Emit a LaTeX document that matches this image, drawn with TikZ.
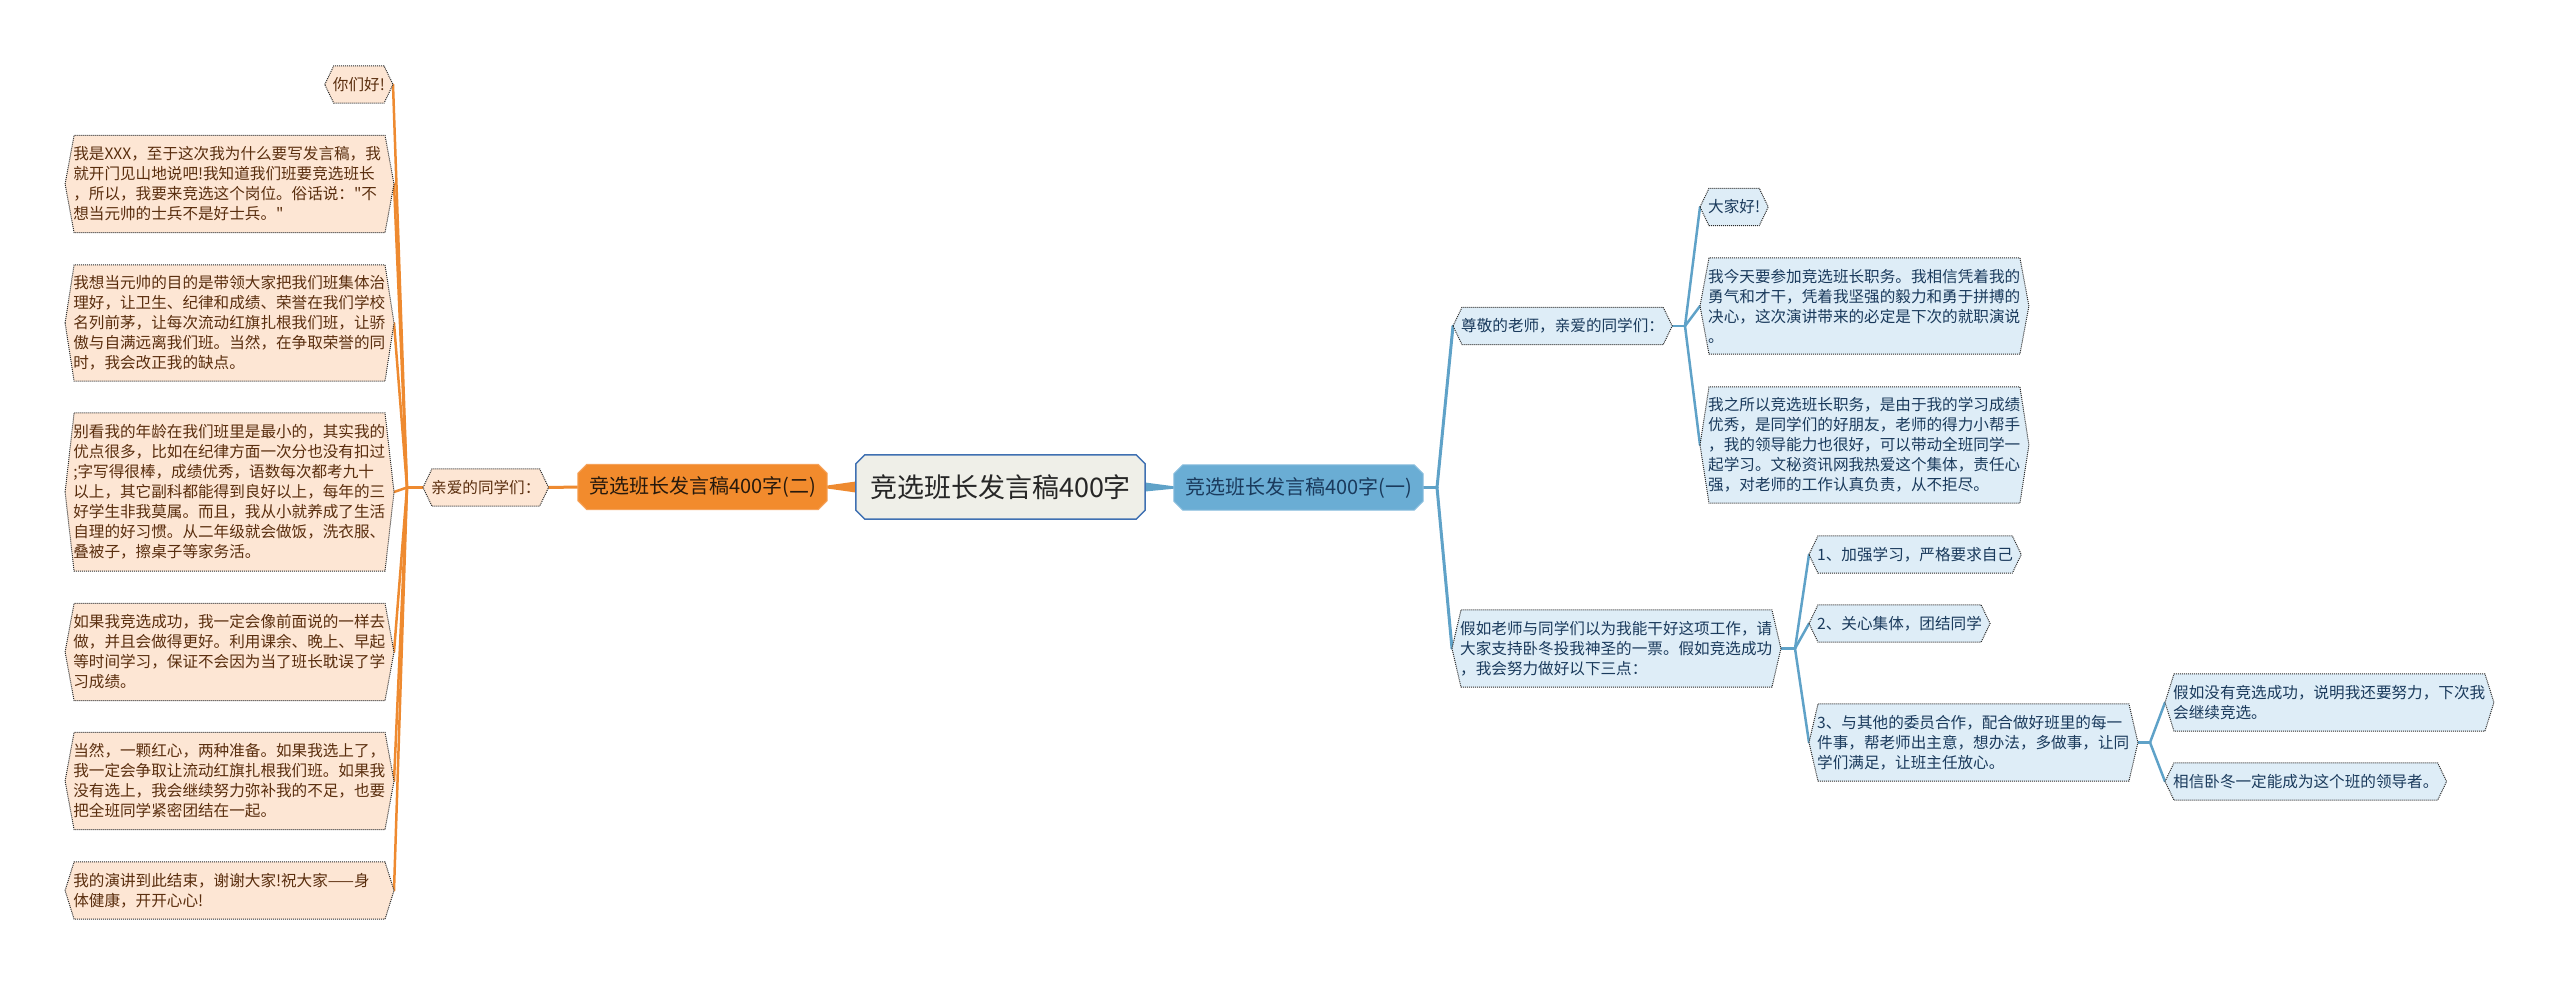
\documentclass[tikz,border=0pt]{standalone}
\usepackage{fontspec}
\setmainfont{Noto Sans CJK SC}
\newfontfamily\cjkplain{Noto Sans CJK SC}
\usetikzlibrary{calc}
\pgfdeclarelayer{bg}
\pgfsetlayers{bg,main}
\definecolor{org}{HTML}{EE8A30}
\definecolor{orgfill}{HTML}{F28B2D}
\definecolor{orgline}{HTML}{F5A25A}
\definecolor{peach}{HTML}{FDE6D4}
\definecolor{brn}{HTML}{5A2E0E}
\definecolor{blu}{HTML}{5FA2C8}
\definecolor{blufill}{HTML}{6AADD4}
\definecolor{lblue}{HTML}{DEEDF7}
\definecolor{navy}{HTML}{1A3A5C}
\definecolor{rootfill}{HTML}{EFEFE8}
\definecolor{rootline}{HTML}{3F70B2}
\definecolor{dotc}{HTML}{2A2A2A}
\newcommand\lf{\cjkplain\fontsize{15.6}{20}\selectfont}
\newcommand\mf{\cjkplain\fontsize{20}{24}\selectfont}
\newcommand\rf{\cjkplain\fontsize{27}{32}\selectfont}
\begin{document}
\begin{tikzpicture}[x=1pt,y=-1pt,
  leaf/.style={inner xsep=8pt, inner ysep=0pt, font=\lf, minimum height=37pt},
  lo/.style={leaf, text=brn},
  lb/.style={leaf, text=navy},
  para/.style={text width=312.5pt, align=left, minimum height=#1},
  hexO/.style={fill=peach, draw=dotc, densely dotted, line width=1pt},
  hexB/.style={fill=lblue, draw=dotc, densely dotted, line width=1pt},
  lnO/.style={draw=org, line width=2.5pt, line cap=round},
  lnB/.style={draw=blu, line width=2.5pt, line cap=round},
  mainO/.style={fill=orgfill, draw=orgline, line width=1pt},
  mainB/.style={fill=blufill, draw=blufill!80!white, line width=1pt},
  rootst/.style={fill=rootfill, draw=rootline, line width=1.5pt},
  midnode/.style={inner sep=0pt, font=\mf, minimum width=#1, minimum height=45pt}
]
\useasboundingbox (0,0) rectangle (2560,985);

% central nodes
\node[inner sep=0pt, font=\rf, text=black!85, minimum width=289pt, minimum height=64pt] (R) at (1000.5,487) {竞选班长发言稿400字};
\node[midnode=249pt, text=black!80!brown] (O2) at (702.5,487) {竞选班长发言稿400字(二)};
\node[midnode=249pt, text=navy] (B0) at (1298.5,487.5) {竞选班长发言稿400字(一)};

% orange side
\node[lo, anchor=west] (O1) at (423,487.5) {亲爱的同学们：};
\node[lo, anchor=east] (L0) at (393,84.5) {你们好!};
\node[lo, para=97pt, anchor=east] (L1) at (394,184) {我是XXX，至于这次我为什么要写发言稿，我\\就开门见山地说吧!我知道我们班要竞选班长\\，所以，我要来竞选这个岗位。俗话说："不\\想当元帅的士兵不是好士兵。"};
\node[lo, para=116pt, anchor=east] (L2) at (394,323) {我想当元帅的目的是带领大家把我们班集体治\\理好，让卫生、纪律和成绩、荣誉在我们学校\\名列前茅，让每次流动红旗扎根我们班，让骄\\傲与自满远离我们班。当然，在争取荣誉的同\\时，我会改正我的缺点。};
\node[lo, para=158pt, anchor=east] (L3) at (394,492) {别看我的年龄在我们班里是最小的，其实我的\\优点很多，比如在纪律方面一次分也没有扣过\\;字写得很棒，成绩优秀，语数每次都考九十\\以上，其它副科都能得到良好以上，每年的三\\好学生非我莫属。而且，我从小就养成了生活\\自理的好习惯。从二年级就会做饭，洗衣服、\\叠被子，擦桌子等家务活。};
\node[lo, para=97pt, anchor=east] (L4) at (394,652) {如果我竞选成功，我一定会像前面说的一样去\\做，并且会做得更好。利用课余、晚上、早起\\等时间学习，保证不会因为当了班长耽误了学\\习成绩。};
\node[lo, para=97pt, anchor=east] (L5) at (394,781) {当然，一颗红心，两种准备。如果我选上了，\\我一定会争取让流动红旗扎根我们班。如果我\\没有选上，我会继续努力弥补我的不足，也要\\把全班同学紧密团结在一起。};
\node[lo, para=57pt, anchor=east] (L6) at (394,890.5) {我的演讲到此结束，谢谢大家!祝大家——身\\体健康，开开心心!};

% blue side
\node[lb, anchor=west] (B1) at (1453,326) {尊敬的老师，亲爱的同学们：};
\node[lb, anchor=west] (B1a) at (1700,207) {大家好!};
\node[lb, para=96pt, anchor=west] (B1b) at (1700,306) {我今天要参加竞选班长职务。我相信凭着我的\\勇气和才干，凭着我坚强的毅力和勇于拼搏的\\决心，这次演讲带来的必定是下次的就职演说\\。};
\node[lb, para=116pt, anchor=west] (B1c) at (1700,445) {我之所以竞选班长职务，是由于我的学习成绩\\优秀，是同学们的好朋友，老师的得力小帮手\\，我的领导能力也很好，可以带动全班同学一\\起学习。文秘资讯网我热爱这个集体，责任心\\强，对老师的工作认真负责，从不拒尽。};
\node[lb, para=77pt, anchor=west] (B2) at (1452,648.5) {假如老师与同学们以为我能干好这项工作，请\\大家支持卧冬投我神圣的一票。假如竞选成功\\，我会努力做好以下三点：};
\node[lb, anchor=west] (B2a) at (1809,554.5) {1、加强学习，严格要求自己};
\node[lb, anchor=west] (B2b) at (1809,623.5) {2、关心集体，团结同学};
\node[lb, para=77pt, anchor=west] (B2c) at (1809,742.5) {3、与其他的委员合作，配合做好班里的每一\\件事，帮老师出主意，想办法，多做事，让同\\学们满足，让班主任放心。};
\node[lb, para=57pt, anchor=west] (B2c1) at (2165,702.5) {假如没有竞选成功，说明我还要努力，下次我\\会继续竞选。};
\node[lb, anchor=west] (B2c2) at (2165,781.5) {相信卧冬一定能成为这个班的领导者。};

% junctions
\coordinate (JL) at (407,487.5);
\coordinate (JB) at (1437,487.5);
\coordinate (JB1) at (1685,326);
\coordinate (JB2) at (1795,648.5);
\coordinate (JB3) at (2150,742.5);

\begin{pgfonlayer}{bg}
  % tapered main connectors
  \fill[org] ($(R.west)+(0,-5.5)$) -- ($(O2.east)+(0,-1.5)$) -- ($(O2.east)+(0,1.5)$) -- ($(R.west)+(0,5.5)$) -- cycle;
  \fill[blu] ($(R.east)+(0,-4.5)$) -- ($(B0.west)+(0,-1.2)$) -- ($(B0.west)+(0,1.2)$) -- ($(R.east)+(0,4.5)$) -- cycle;
  % orange connectors
  \draw[lnO, line width=3pt] (O2.west) -- (O1.east);
  \draw[lnO] (O1.west) -- (JL);
  \foreach \n in {L0,L1,L2,L3,L4,L5,L6} \draw[lnO] (JL) -- (\n.east);
  % blue connectors
  \draw[lnB, line width=3pt] (B0.east) -- (JB);
  \foreach \n in {B1,B2} \draw[lnB, line width=3pt] (JB) -- (\n.west);
  \draw[lnB] (B1.east) -- (JB1);
  \foreach \n in {B1a,B1b,B1c} \draw[lnB] (JB1) -- (\n.west);
  \draw[lnB] (B2.east) -- (JB2);
  \foreach \n in {B2a,B2b,B2c} \draw[lnB] (JB2) -- (\n.west);
  \draw[lnB] (B2c.east) -- (JB3);
  \foreach \n in {B2c1,B2c2} \draw[lnB] (JB3) -- (\n.west);
  % hexagon leaf shapes
  \foreach \n/\s in {O1/hexO,L0/hexO,L1/hexO,L2/hexO,L3/hexO,L4/hexO,L5/hexO,L6/hexO,B1/hexB,B1a/hexB,B1b/hexB,B1c/hexB,B2/hexB,B2a/hexB,B2b/hexB,B2c/hexB,B2c1/hexB,B2c2/hexB}
    \path[\s] (\n.west) -- ([xshift=9pt]\n.north west) -- ([xshift=-9pt]\n.north east) -- (\n.east) -- ([xshift=-9pt]\n.south east) -- ([xshift=9pt]\n.south west) -- cycle;
  % octagon main shapes
  \foreach \n/\s in {R/rootst,O2/mainO,B0/mainB}
    \path[\s] ([xshift=9pt]\n.north west) -- ([xshift=-9pt]\n.north east) -- ([yshift=-9pt]\n.north east) -- ([yshift=9pt]\n.south east) -- ([xshift=-9pt]\n.south east) -- ([xshift=9pt]\n.south west) -- ([yshift=9pt]\n.south west) -- ([yshift=-9pt]\n.north west) -- cycle;
\end{pgfonlayer}
\end{tikzpicture}
\end{document}
